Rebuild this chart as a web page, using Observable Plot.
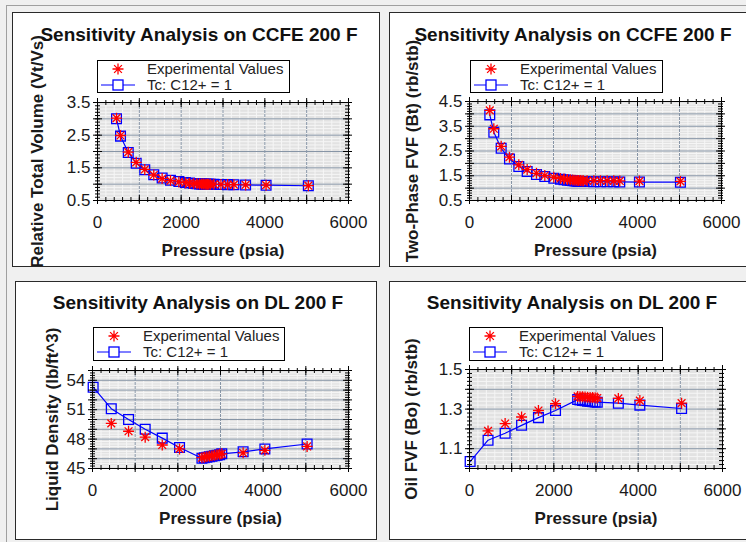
<!DOCTYPE html>
<html>
<head>
<meta charset="utf-8">
<script src="https://cdn.jsdelivr.net/npm/d3@7"></script>
<script src="https://cdn.jsdelivr.net/npm/@observablehq/plot@0.6"></script>
<style>
  html, body { margin: 0; padding: 0; }
  body { width: 746px; height: 542px; overflow: hidden; position: relative; background: #f0f0f0;
         font-family: "Liberation Sans", Arial, sans-serif; }
  .outer { position: absolute; left: 6px; top: 5px; width: 800px; height: 600px;
           border-left: 1px solid #a0a0a0; border-top: 1px solid #a0a0a0; }
  .panel { position: absolute; background: #fff; border: 1px solid #2a2a2a; box-sizing: border-box; overflow: hidden; }
  .panel svg.plot { position: absolute; left: 0; top: 0; overflow: visible; }
  .title { position: absolute; left: 0; width: 368px; text-align: center; font-weight: bold;
           font-size: 19px; line-height: 22px; color: #111; white-space: nowrap; }
  .legend { position: absolute; border: 1px solid #000; background: #fff; box-sizing: border-box; }
  .legend svg { position: absolute; left: 0; top: 0; }
  .legend .lt { position: absolute; left: 49px; font-size: 15px; line-height: 16px; color: #222; white-space: nowrap; }
  g[aria-label="x-axis label"] text, g[aria-label="y-axis label"] text { font-weight: bold; }
</style>
</head>
<body>
<div class="outer"></div>
<script>
// ---------- shared axis values ----------
const xTicks = [0, 2000, 4000, 6000];
const legendExp = "Experimental Values";
const legendModel = "Tc: C12+ = 1";

// ---------- Panel 1: CCFE relative total volume ----------
const rtvPressure = [455, 550, 735, 925, 1130, 1345, 1545, 1745, 1945, 2100, 2200, 2300, 2380, 2440, 2490, 2530, 2570, 2600, 2630, 2660, 2700, 2780, 2950, 3110, 3260, 3540, 4030, 5040];
const rtvExp      = [3.02, 2.49, 1.98, 1.67, 1.45, 1.28, 1.17, 1.11, 1.07, 1.045, 1.03, 1.02, 1.012, 1.007, 1.004, 1.002, 1.001, 1.000, 0.999, 0.998, 0.997, 0.995, 0.991, 0.987, 0.984, 0.978, 0.969, 0.953];
const rtvModel    = [3.00, 2.47, 1.97, 1.64, 1.44, 1.29, 1.19, 1.12, 1.08, 1.05, 1.035, 1.022, 1.014, 1.008, 1.004, 1.002, 1.000, 0.999, 0.998, 0.997, 0.996, 0.994, 0.990, 0.986, 0.983, 0.977, 0.968, 0.952];
const rtvTicks    = [0.5, 1.5, 2.5, 3.5];

// ---------- Panel 2: CCFE two-phase FVF ----------
const btPressure = [483, 579, 754, 952, 1174, 1373, 1595, 1793, 2007, 2166, 2250, 2330, 2400, 2460, 2510, 2560, 2600, 2640, 2680, 2713, 2800, 2960, 3118, 3277, 3435, 3578, 4046, 5022];
const btExp      = [4.14, 3.40, 2.69, 2.25, 1.94, 1.75, 1.60, 1.51, 1.44, 1.39, 1.37, 1.35, 1.34, 1.33, 1.32, 1.31, 1.31, 1.31, 1.30, 1.30, 1.30, 1.30, 1.30, 1.30, 1.295, 1.29, 1.285, 1.27];
const btModel    = [3.96, 3.26, 2.61, 2.18, 1.87, 1.67, 1.55, 1.47, 1.40, 1.36, 1.34, 1.32, 1.31, 1.30, 1.29, 1.28, 1.27, 1.27, 1.27, 1.27, 1.265, 1.26, 1.26, 1.255, 1.255, 1.25, 1.245, 1.24];
const btTicks    = [0.5, 1.5, 2.5, 3.5, 4.5];

// ---------- Panel 3: DL liquid density ----------
const rhoPressure = [15, 440, 845, 1235, 1635, 2040, 2565, 2620, 2680, 2740, 2800, 2860, 2920, 2980, 3030, 3530, 4040, 5030];
const rhoExp      = [null, 49.6, 48.8, 48.2, 47.4, 47.0, 46.1, 46.15, 46.2, 46.25, 46.3, 46.35, 46.4, 46.45, 46.5, 46.6, 46.85, 47.25];
const rhoModel    = [53.3, 51.1, 50.0, 49.0, 48.1, 47.15, 46.05, 46.1, 46.15, 46.2, 46.25, 46.3, 46.35, 46.4, 46.5, 46.7, 47.0, 47.5];
const rhoTicks    = [45, 48, 51, 54];

// ---------- Panel 4: DL oil FVF ----------
const boPressure = [15, 440, 845, 1235, 1635, 2040, 2565, 2620, 2680, 2740, 2800, 2860, 2920, 2980, 3030, 3530, 4040, 5030];
const boExp      = [null, 1.19, 1.227, 1.26, 1.293, 1.327, 1.364, 1.363, 1.362, 1.361, 1.36, 1.359, 1.358, 1.357, 1.356, 1.354, 1.343, 1.33];
const boModel    = [1.035, 1.143, 1.178, 1.218, 1.257, 1.293, 1.348, 1.346, 1.344, 1.342, 1.34, 1.338, 1.337, 1.336, 1.335, 1.330, 1.320, 1.303];
const boTicks    = [1.1, 1.3, 1.5];

function rowsOf(P, E, M) { return P.map((p, i) => ({p, exp: E[i], model: M[i]})); }

// eight-armed asterisk symbol
const star8 = {
  draw(ctx, size) {
    const r = Math.sqrt(size / Math.PI);
    for (let k = 0; k < 4; ++k) {
      const a = k * Math.PI / 4, dx = r * Math.cos(a), dy = r * Math.sin(a);
      ctx.moveTo(-dx, -dy); ctx.lineTo(dx, dy);
    }
  }
};

function makeChart(c) {
  const {rows, W, H, ml, mt, fw, fh} = c;
  const mr = W - ml - fw, mb = H - mt - fh;
  const xMinor = d3.range(0, 6001, 200);
  const xMajor = d3.range(0, 6001, 1000);
  const xGrid = d3.range(1000, 6000, 1000);
  const model = rows.filter(d => d.model != null);
  const exp = rows.filter(d => d.exp != null);
  const tk = {stroke: "#000", strokeWidth: 1};
  return Plot.plot({
    width: W, height: H,
    marginLeft: ml, marginTop: mt, marginRight: mr, marginBottom: mb,
    style: {fontFamily: "'Liberation Sans', Arial, sans-serif", fontSize: "17px", color: "#1a1a1a", background: "transparent", overflow: "visible"},
    x: {domain: [0, 6000]},
    y: {domain: c.yDomain},
    marks: [
      Plot.frame({fill: "#e2e2e2", stroke: null}),
      Plot.ruleX(xMinor, {x: d => d, stroke: "#f6f6f6"}),
      Plot.ruleY(c.yMinor, {y: d => d, stroke: "#f6f6f6"}),
      Plot.ruleX(xGrid, {x: d => d, stroke: "#8795a6", strokeDasharray: "3,1"}),
      Plot.ruleY(c.yMajor, {y: d => d, stroke: "#8795a6"}),
      Plot.line(model, {x: "p", y: "model", stroke: "#0000ff", strokeWidth: 1.2}),
      Plot.dot(model, {x: "p", y: "model", symbol: "square", r: 5.5, stroke: "#0000ff", fill: "none", strokeWidth: 1.3}),
      Plot.dot(exp, {x: "p", y: "exp", symbol: star8, r: 5.5, stroke: "#ff0000", fill: "none", strokeWidth: 1.3}),
      Plot.frame({stroke: "#000"}),
      // inward/crossing ticks on all four sides
      Plot.tickX(xMinor, {x: d => d, ...tk, insetTop: fh - 3, insetBottom: -2}),
      Plot.tickX(xMajor, {x: d => d, ...tk, insetTop: fh - 5, insetBottom: -4}),
      Plot.tickX(xMinor, {x: d => d, ...tk, insetBottom: fh - 3, insetTop: -2}),
      Plot.tickX(xMajor, {x: d => d, ...tk, insetBottom: fh - 5, insetTop: -4}),
      Plot.tickY(c.yMinor, {y: d => d, ...tk, insetRight: fw - 3, insetLeft: -2}),
      Plot.tickY(c.yMajor2, {y: d => d, ...tk, insetRight: fw - 5, insetLeft: -4}),
      Plot.tickY(c.yMinor, {y: d => d, ...tk, insetLeft: fw - 3, insetRight: -2}),
      Plot.tickY(c.yMajor2, {y: d => d, ...tk, insetLeft: fw - 5, insetRight: -4}),
      Plot.axisX(xTicks, {tickSize: 0, tickPadding: 15, tickFormat: d3.format("d"),
        label: "Pressure (psia)", labelAnchor: "center", labelArrow: "none", labelOffset: c.xLabelOffset}),
      Plot.axisY(c.yTicks, {tickSize: 0, tickPadding: 7, tickFormat: c.yFormat,
        label: c.yLabel, labelAnchor: "center", labelArrow: "none", labelOffset: c.yLabelOffset})
    ]
  });
}

function legendBox(L) {
  const div = document.createElement("div");
  div.className = "legend";
  Object.assign(div.style, {left: L[0] + "px", top: L[1] + "px", width: L[2] + "px", height: L[3] + "px"});
  const ns = "http://www.w3.org/2000/svg";
  const svg = document.createElementNS(ns, "svg");
  svg.setAttribute("width", L[2]); svg.setAttribute("height", L[3]);
  const cx = 20, y1 = 8, y2 = 24;
  const star = document.createElementNS(ns, "path");
  const a = 5.5;
  let d = "";
  for (let k = 0; k < 4; ++k) {
    const t = k * Math.PI / 4, dx = a * Math.cos(t), dy = a * Math.sin(t);
    d += `M${cx - dx},${y1 - dy}L${cx + dx},${y1 + dy}`;
  }
  star.setAttribute("d", d);
  star.setAttribute("stroke", "#ff0000"); star.setAttribute("stroke-width", "1.3");
  svg.appendChild(star);
  const line = document.createElementNS(ns, "path");
  line.setAttribute("d", `M3,${y2}H37`);
  line.setAttribute("stroke", "#0000ff"); line.setAttribute("stroke-width", "1.2");
  svg.appendChild(line);
  const sq = document.createElementNS(ns, "rect");
  sq.setAttribute("x", cx - 5); sq.setAttribute("y", y2 - 5); sq.setAttribute("width", 10); sq.setAttribute("height", 10);
  sq.setAttribute("fill", "#fff"); sq.setAttribute("stroke", "#0000ff"); sq.setAttribute("stroke-width", "1.3");
  svg.appendChild(sq);
  div.appendChild(svg);
  [[legendExp, 0], [legendModel, 16]].forEach(([t, y]) => {
    const s = document.createElement("span");
    s.className = "lt"; s.textContent = t; s.style.top = y + "px";
    div.appendChild(s);
  });
  return div;
}

function panel(c) {
  const div = document.createElement("div");
  div.className = "panel";
  Object.assign(div.style, {left: c.box[0] + "px", top: c.box[1] + "px", width: c.box[2] + "px", height: c.box[3] + "px"});
  const svg = makeChart(c);
  svg.classList.add("plot");
  div.appendChild(svg);
  const t = document.createElement("div");
  t.className = "title"; t.textContent = c.title; t.style.top = c.titleTop + "px";
  t.style.width = (2 * c.titleCenter) + "px";
  div.appendChild(t);
  div.appendChild(legendBox(c.legend));
  document.body.appendChild(div);
}

panel({
  title: "Sensitivity Analysis on CCFE 200 F", titleTop: 11, titleCenter: 186,
  box: [12, 12, 368, 255], W: 366, H: 253, ml: 84, mt: 89, fw: 251, fh: 98,
  legend: [84, 47, 193, 33],
  rows: rowsOf(rtvPressure, rtvExp, rtvModel),
  yDomain: [0.5, 3.5], yTicks: rtvTicks, yFormat: d3.format(".1f"),
  yMajor: d3.range(1, 3.5, 0.5), yMajor2: d3.range(0.5, 3.51, 0.5), yMinor: d3.range(0.5, 3.51, 0.1).map(v => +v.toFixed(2)),
  yLabel: "Relative Total Volume (Vt/Vs)", yLabelOffset: 67, xLabelOffset: 55
});
panel({
  title: "Sensitivity Analysis on CCFE 200 F", titleTop: 11, titleCenter: 183,
  box: [389, 12, 370, 255], W: 368, H: 253, ml: 79, mt: 88, fw: 252, fh: 99,
  legend: [80, 47, 193, 33],
  rows: rowsOf(btPressure, btExp, btModel),
  yDomain: [0.5, 4.5], yTicks: btTicks, yFormat: d3.format(".1f"),
  yMajor: d3.range(1, 4.5, 0.5), yMajor2: d3.range(0.5, 4.51, 0.5), yMinor: d3.range(0.5, 4.51, 0.1).map(v => +v.toFixed(2)),
  yLabel: "Two-Phase FVF (Bt) (rb/stb)", yLabelOffset: 64, xLabelOffset: 55
});
panel({
  title: "Sensitivity Analysis on DL 200 F", titleTop: 10, titleCenter: 182,
  box: [15, 281, 362, 259], W: 360, H: 257, ml: 76, mt: 88, fw: 256, fh: 98,
  legend: [77, 45, 192, 34],
  rows: rowsOf(rhoPressure, rhoExp, rhoModel),
  yDomain: [45, 55], yTicks: rhoTicks, yFormat: d3.format("d"),
  yMajor: d3.range(46, 55, 1), yMajor2: d3.range(45, 55.01, 1), yMinor: d3.range(45, 55.01, 0.25),
  yLabel: "Liquid Density (lb/ft^3)", yLabelOffset: 47, xLabelOffset: 55
});
panel({
  title: "Sensitivity Analysis on DL 200 F", titleTop: 10, titleCenter: 182,
  box: [389, 281, 370, 259], W: 368, H: 257, ml: 79, mt: 87, fw: 253, fh: 99,
  legend: [79, 45, 194, 34],
  rows: rowsOf(boPressure, boExp, boModel),
  yDomain: [1.0, 1.5], yTicks: boTicks, yFormat: d3.format(".1f"),
  yMajor: [1.1, 1.2, 1.3, 1.4], yMajor2: [1.0, 1.1, 1.2, 1.3, 1.4, 1.5], yMinor: d3.range(1.0, 1.501, 0.02).map(v => +v.toFixed(2)),
  yLabel: "Oil FVF (Bo) (rb/stb)", yLabelOffset: 65, xLabelOffset: 55
});
</script>
</body>
</html>
